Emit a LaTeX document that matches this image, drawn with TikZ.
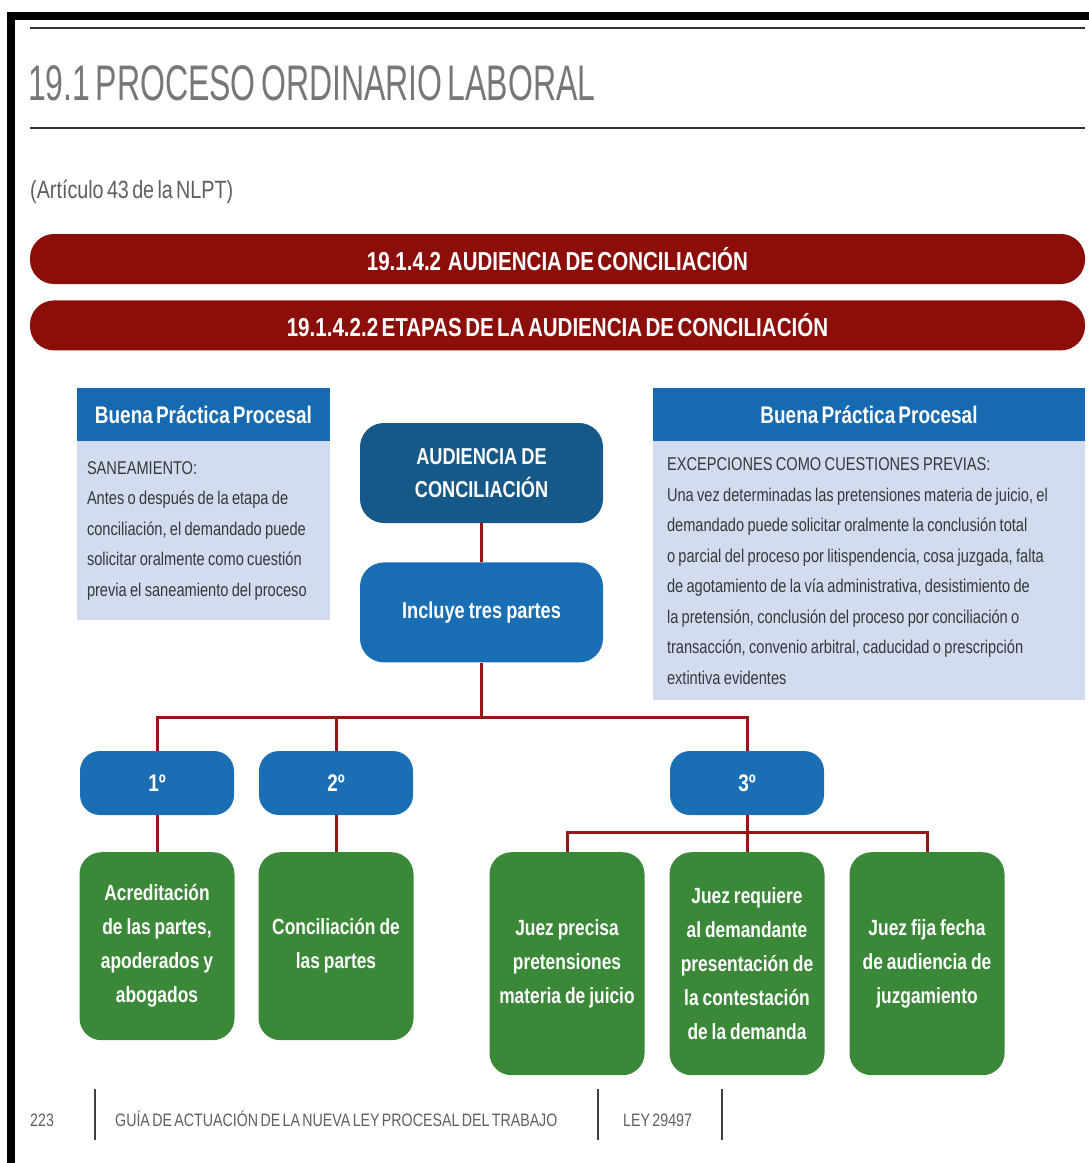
\documentclass[tikz,border=0pt]{standalone}
\usepackage{fontspec}
\setmainfont{Liberation Sans}[FakeStretch=0.79, WordSpace=0.6]
\newfontfamily\titlefont{Liberation Sans}[FakeStretch=0.64, WordSpace=0.6]
\usepackage{tikz}
\usetikzlibrary{positioning}
\definecolor{barred}{RGB}{140,14,10}
\definecolor{linkred}{RGB}{150,22,22}
\definecolor{darkblue}{RGB}{22,88,135}
\definecolor{midblue}{RGB}{26,110,180}
\definecolor{hdrblue}{RGB}{24,106,176}
\definecolor{notefill}{RGB}{210,220,238}
\definecolor{notetext}{RGB}{55,55,60}
\definecolor{actgreen}{RGB}{58,136,56}
\definecolor{greytext}{RGB}{95,95,95}
\tikzset{
  tightwords/.style={execute at begin node={\spaceskip=0.18em\relax}},
  rule/.style={line width=2.5pt, color=black!80},
  redbar/.style={rectangle, fill=barred, text=white, rounded corners=24pt,
    minimum width=1055pt, minimum height=50pt,
    font=\fontsize{26}{30}\selectfont\bfseries},
  hdrbox/.style={rectangle, fill=hdrblue, text=white, minimum height=53pt,
    font=\fontsize{24}{28}\selectfont\bfseries},
  notebox/.style={rectangle, fill=notefill, text=notetext, align=left, tightwords,
    font=\fontsize{18.5}{30.5}\selectfont},
  mainbox/.style={rectangle, rounded corners=24pt, text=white, align=center, tightwords,
    minimum width=243pt, minimum height=100pt,
    font=\fontsize{23}{33}\selectfont\bfseries},
  stepbox/.style={rectangle, rounded corners=20pt, fill=midblue, text=white,
    minimum width=154pt, minimum height=64pt,
    font=\fontsize{24}{28}\selectfont\bfseries},
  actbox/.style={rectangle, rounded corners=22pt, fill=actgreen, text=white,
    align=center, tightwords, minimum width=155pt, text width=145pt, anchor=north,
    font=\fontsize{22}{34}\selectfont\bfseries},
  link/.style={draw=linkred, line width=3pt},
  foottext/.style={text=greytext, font=\fontsize{18}{20}\selectfont, anchor=base west, inner sep=0pt}
}
\begin{document}
\begin{tikzpicture}[x=1pt, y=-1pt]
  \useasboundingbox (0,0) rectangle (1089,1163);

  % page frame
  \fill[black] (7,12) rectangle (1089,20);
  \fill[black] (7,12) rectangle (15,1163);

  % heading
  \draw[rule] (30,28) -- (1085,28);
  \draw[rule] (30,128) -- (1085,128);
  \node[anchor=base west, inner sep=0pt, text=greytext!85, font=\titlefont\fontsize{50}{56}\selectfont] (title) at (28,100) {19.1 PROCESO ORDINARIO LABORAL};
  \node[anchor=base west, inner sep=0pt, text=greytext, font=\fontsize{25}{28}\selectfont] (art) at (30,198) {(Artículo 43 de la NLPT)};

  % section bars
  \node[redbar] (bar1) at (557.5,259) {19.1.4.2\ \ AUDIENCIA DE CONCILIACIÓN};
  \node[redbar, below=16pt of bar1] (bar2) {19.1.4.2.2 ETAPAS DE LA AUDIENCIA DE CONCILIACIÓN};

  % good practice notes
  \node[hdrbox, minimum width=253pt] (hdrL) at (203.5,414.5) {Buena Práctica Procesal};
  \node[notebox, below=0pt of hdrL, minimum width=253pt, text width=233pt, minimum height=179pt] (noteL)
    {SANEAMIENTO:\\
     Antes o después de la etapa de\\
     conciliación, el demandado puede\\
     solicitar oralmente como cuestión\\
     previa el saneamiento del proceso};
  \node[hdrbox, minimum width=432pt] (hdrR) at (869,414.5) {Buena Práctica Procesal};
  \node[notebox, below=0pt of hdrR, minimum width=432pt, text width=404pt, minimum height=259pt] (noteR)
    {EXCEPCIONES COMO CUESTIONES PREVIAS:\\
     Una vez determinadas las pretensiones materia de juicio, el\\
     demandado puede solicitar oralmente la conclusión total\\
     o parcial del proceso por litispendencia, cosa juzgada, falta\\
     de agotamiento de la vía administrativa, desistimiento de\\
     la pretensión, conclusión del proceso por conciliación o\\
     transacción, convenio arbitral, caducidad o prescripción\\
     extintiva evidentes};

  % main flow
  \node[mainbox, fill=darkblue] (aud) at (481.5,473) {AUDIENCIA DE\\CONCILIACIÓN};
  \node[mainbox, fill=midblue, below=39pt of aud] (incl) {Incluye tres partes};

  \node[stepbox] (s1) at (157,783) {1º};
  \node[stepbox] (s2) at (336,783) {2º};
  \node[stepbox] (s3) at (747,783) {3º};

  \node[actbox, minimum height=188pt] (a1) at (157,852) {Acreditación\\de las partes,\\apoderados y\\abogados};
  \node[actbox, minimum height=188pt] (a2) at (336,852) {Conciliación de\\las partes};
  \node[actbox, minimum height=223pt] (a3) at (567,852) {Juez precisa\\pretensiones\\materia de juicio};
  \node[actbox, minimum height=223pt] (a4) at (747,852) {Juez requiere\\al demandante\\presentación de\\la contestación\\de la demanda};
  \node[actbox, minimum height=223pt] (a5) at (927,852) {Juez fija fecha\\de audiencia de\\juzgamiento};

  % connectors
  \coordinate (busA) at (481.5,717);
  \coordinate (busB) at (747,832);
  \draw[link] (aud) -- (incl);
  \draw[link] (incl.south) -- (busA);
  \draw[link] (busA) -| (s1.north);
  \draw[link] (busA) -| (s2.north);
  \draw[link] (busA) -| (s3.north);
  \draw[link] (s1) -- (a1);
  \draw[link] (s2) -- (a2);
  \draw[link] (s3.south) -- (busB);
  \draw[link] (busB) -| (a3.north);
  \draw[link] (busB) -- (a4.north);
  \draw[link] (busB) -| (a5.north);

  % footer
  \node[foottext] (pg) at (30,1126) {223};
  \node[foottext] (guide) at (115,1126) {GUÍA DE ACTUACIÓN DE LA NUEVA LEY PROCESAL DEL TRABAJO};
  \node[foottext] (law) at (623,1126) {LEY 29497};
  \draw[line width=1.5pt, black!75] (95,1089) -- (95,1140);
  \draw[line width=1.5pt, black!75] (598,1089) -- (598,1140);
  \draw[line width=1.5pt, black!75] (722,1089) -- (722,1140);
\end{tikzpicture}
\end{document}
